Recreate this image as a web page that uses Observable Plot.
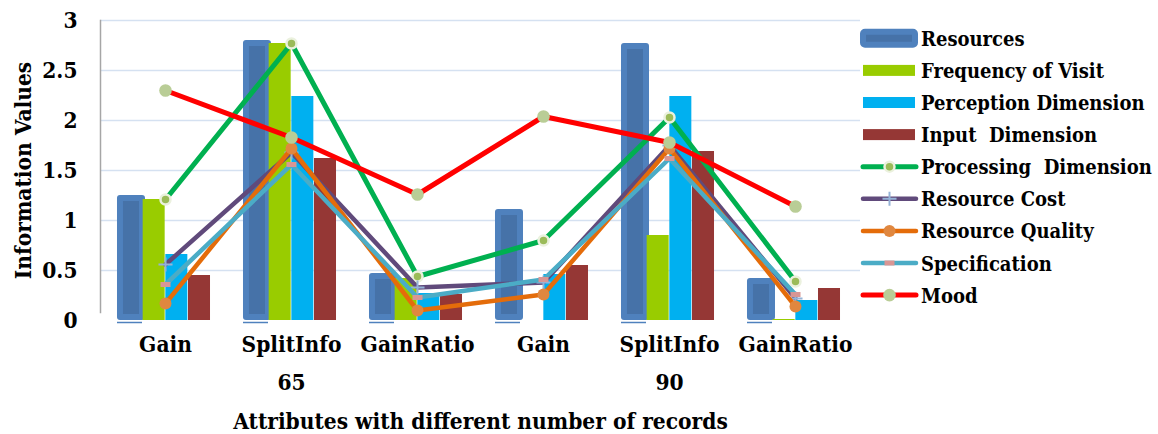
<!DOCTYPE html>
<html>
<head>
<meta charset="utf-8">
<script src="https://cdn.jsdelivr.net/npm/d3@7"></script>
<script src="https://cdn.jsdelivr.net/npm/@observablehq/plot@0.6"></script>
<style>
  body { margin: 0; background: #fff; }
  #wrap { position: relative; width: 1158px; height: 434px; background: #fff; }
  #legend { position: absolute; left: 850px; top: 0; }
</style>
</head>
<body>
<div id="wrap"></div>
<script>
// Category axis: attribute name and number of records
const attributes = ["Gain", "SplitInfo", "GainRatio", "Gain", "SplitInfo", "GainRatio"];
const recordCounts = [65, 65, 65, 90, 90, 90];
const yTicks = [0, 0.5, 1, 1.5, 2, 2.5, 3];

// Bar series
const resources  = [1.22, 2.77, 0.44, 1.08, 2.74, 0.39];
const frequency  = [1.21, 2.77, 0.42, 0.00, 0.85, 0.01];
const perception = [0.66, 2.24, 0.27, 0.46, 2.24, 0.20];
const input      = [0.45, 1.62, 0.26, 0.55, 1.69, 0.32];

// Line series
const processing    = [1.21, 2.77, 0.44, 0.80, 2.03, 0.39];
const cost          = [0.56, 1.68, 0.33, 0.38, 1.75, 0.22];
const quality       = [0.17, 1.72, 0.10, 0.26, 1.72, 0.14];
const specification = [0.36, 1.56, 0.23, 0.41, 1.62, 0.26];
const mood          = [2.30, 1.83, 1.26, 2.04, 1.78, 1.14];

const keys = attributes.map((a, i) => `${a} ${recordCounts[i]}`);
const attributeOf = Object.fromEntries(keys.map((k, i) => [k, attributes[i]]));
const rowsOf = values => values.map((v, i) => ({key: keys[i], value: v}));

// Record-count group labels sit under the middle attribute of each group
const groupLabels = Array.from(new Set(recordCounts), r => {
  const idx = recordCounts.map((c, i) => c === r ? i : -1).filter(i => i >= 0);
  return {key: keys[idx[Math.floor(idx.length / 2)]], label: String(r)};
});

// A short horizontal dash used as the Specification marker
const dashSymbol = {draw(ctx) { ctx.rect(-5, -2.5, 10, 5); }};

const barSeries = [
  {name: "Resources", values: resources, fill: "#4672a8", stroke: "#4f81bd"},
  {name: "Frequency of Visit", values: frequency, fill: "#99cc00"},
  {name: "Perception Dimension", values: perception, fill: "#00b0f0"},
  {name: "Input  Dimension", values: input, fill: "#953735"}
];

const lineSeries = [
  {name: "Processing  Dimension", values: processing, stroke: "#00b050", width: 5,
   marker: {r: 5, fill: "#9bbb59", stroke: "#ebf1de", strokeWidth: 2.5}},
  {name: "Resource Cost", values: cost, stroke: "#604a7b", width: 4.5,
   marker: {symbol: "plus", r: 4.6, fill: "none", stroke: "#95b3d7", strokeWidth: 2}},
  {name: "Resource Quality", values: quality, stroke: "#e46c0a", width: 4.5,
   marker: {r: 6, fill: "#e0873f"}},
  {name: "Specification", values: specification, stroke: "#4bacc6", width: 4.5,
   marker: {symbol: dashSymbol, r: 5, fill: "#d99694"}},
  {name: "Mood", values: mood, stroke: "#ff0000", width: 5,
   marker: {r: 6.3, fill: "#b9cd96"}}
];

const W = 1158, H = 434, mL = 100, mR = 298, mT = 20, mB = 114;
const step = (W - mL - mR) / keys.length;
const barW = 22.67;
const lead = (step - barW * barSeries.length) / 2;
const insetsFor = j => ({insetLeft: lead + barW * j, insetRight: step - lead - barW * (j + 1)});

const fontFamily = "\"DejaVu Serif Condensed\", \"DejaVu Serif\", serif";

const barMarks = barSeries.map((s, j) => Plot.barY(rowsOf(s.values), {
  x: "key", y: "value", fill: s.fill,
  ...insetsFor(j),
  ...(s.stroke ? {stroke: s.stroke, strokeWidth: 6, strokeLinejoin: "round", insetBottom: 3} : {})
}));

// thin accent line beneath each Resources bar
const baseAccent = Plot.tickY(rowsOf(resources), {
  x: "key", y: () => 0, dy: 2, stroke: "#4f81bd", strokeWidth: 1.5,
  insetLeft: lead - 3, insetRight: step - lead - barW
});

const lineMarks = lineSeries.flatMap(s => [
  Plot.line(rowsOf(s.values), {x: "key", y: "value", stroke: s.stroke, strokeWidth: s.width,
    strokeLinejoin: "round", strokeLinecap: "round"}),
  Plot.dot(rowsOf(s.values), {x: "key", y: "value", ...s.marker})
]);

const textStyle = {fontSize: 22.5, fontWeight: "bold", fontFamily};

const chart = Plot.plot({
  width: W, height: H,
  marginLeft: mL, marginRight: mR, marginTop: mT, marginBottom: mB,
  style: {fontFamily, fontSize: "22.5px", fontWeight: "bold", background: "white", color: "black"},
  x: {type: "band", domain: keys, padding: 0},
  y: {domain: [0, 3]},
  marks: [
    Plot.gridY(yTicks.filter(t => t > 0), {stroke: "#d5e1f1", strokeOpacity: 1, strokeWidth: 1.5}),
    Plot.frame({anchor: "left", stroke: "#a6a6a6", strokeWidth: 1.5, insetBottom: 8}),
    Plot.axisY({ticks: yTicks, tickSize: 0, tickPadding: 23, label: null, tickFormat: d3.format(""), ...textStyle}),
    Plot.axisX({tickSize: 0, tickPadding: 16, label: null, tickFormat: k => attributeOf[k], ...textStyle}),
    ...barMarks,
    baseAccent,
    ...lineMarks,
    Plot.text(groupLabels, {x: "key", y: () => 0, text: "label", dy: 62, ...textStyle}),
    Plot.text(["Attributes with different number of records"], {
      frameAnchor: "bottom", textAnchor: "middle", lineAnchor: "middle", dy: 101, ...textStyle}),
    Plot.text(["Information Values"], {
      frameAnchor: "left", textAnchor: "middle", lineAnchor: "middle", rotate: -90, dx: -77, ...textStyle})
  ]
});

const wrap = document.getElementById("wrap");
wrap.appendChild(chart);

// Legend on the right
const ox = 850;
const legend = d3.select(wrap).append("svg")
  .attr("id", "legend")
  .attr("width", 308).attr("height", 320);
const rowY = i => 38.3 + i * 32.1;
const allSeries = [...barSeries, ...lineSeries];
allSeries.forEach((s, i) => {
  const g = legend.append("g").attr("transform", `translate(0,${rowY(i)})`);
  if (i < barSeries.length) {
    if (s.stroke) {
      g.append("rect").attr("x", 863 - ox).attr("y", -6.5).attr("width", 52).attr("height", 13)
        .attr("rx", 2).attr("fill", s.fill).attr("stroke", s.stroke).attr("stroke-width", 6)
        .attr("stroke-linejoin", "round");
    } else {
      g.append("rect").attr("x", 863 - ox).attr("y", -5.5).attr("width", 52).attr("height", 11)
        .attr("fill", s.fill);
    }
  } else {
    g.append("line").attr("x1", 863 - ox).attr("x2", 916 - ox).attr("y1", 0).attr("y2", 0)
      .attr("stroke", s.stroke).attr("stroke-width", s.width).attr("stroke-linecap", "round");
    const cx = 889.5 - ox, m = s.marker;
    if (m.symbol === "plus") {
      g.append("path").attr("d", `M${cx - 7},0H${cx + 7}M${cx},-7V7`)
        .attr("stroke", m.stroke).attr("stroke-width", m.strokeWidth).attr("fill", "none");
    } else if (m.symbol) {
      g.append("rect").attr("x", cx - 5).attr("y", -2.5).attr("width", 10).attr("height", 5).attr("fill", m.fill);
    } else {
      g.append("circle").attr("cx", cx).attr("cy", 0).attr("r", m.r).attr("fill", m.fill)
        .attr("stroke", m.stroke || "none").attr("stroke-width", m.strokeWidth || 0);
    }
  }
  g.append("text").attr("x", 921 - ox).attr("y", 7.5)
    .style("font-family", fontFamily)
    .style("font-size", "20px").style("font-weight", "bold")
    .style("white-space", "pre").attr("fill", "black")
    .text(s.name);
});
</script>
</body>
</html>
